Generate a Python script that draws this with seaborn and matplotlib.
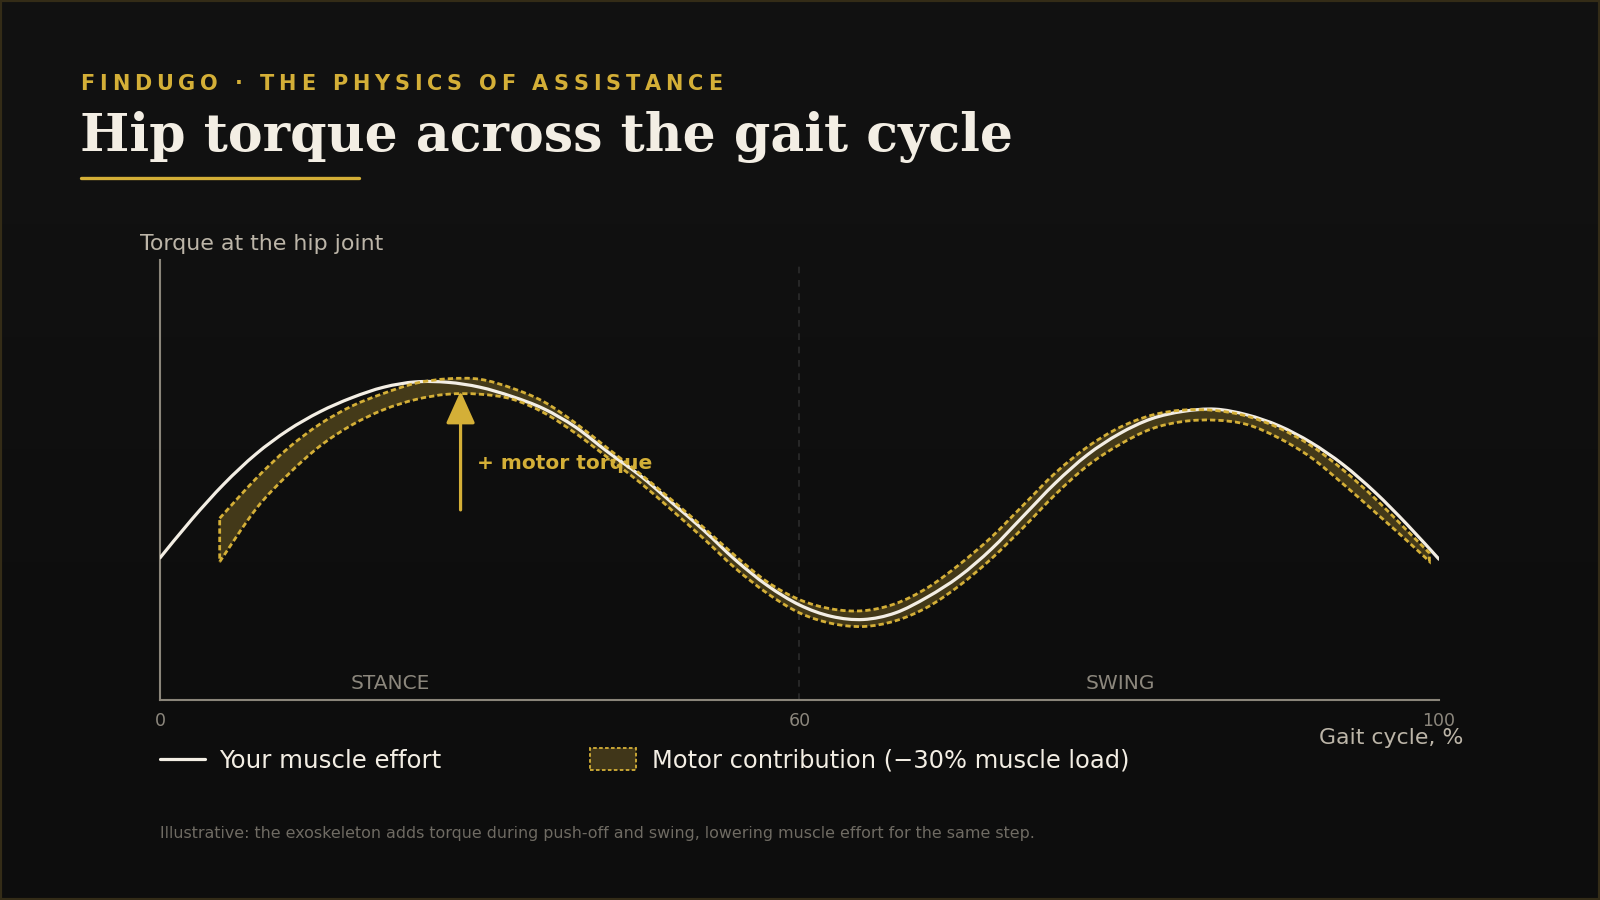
import numpy as np
import seaborn as sns
import matplotlib
matplotlib.use("Agg")
import matplotlib.pyplot as plt
from matplotlib.lines import Line2D
from matplotlib.patches import Rectangle, PathPatch
from matplotlib.path import Path

# ---- data (torque, normalised 0..1 of the plot height) ----
# gait cycle samples in %: stance sampled every 3 %, swing every 2 %
gait = [0, 3, 6, 9, 12, 15, 18, 21, 24, 27, 30, 33, 36, 39, 42, 45, 48, 51, 54, 57, 60,
        62, 64, 66, 68, 70, 72, 74, 76, 78, 80, 82, 84, 86, 88, 90, 92, 94, 96, 98, 100]
muscle = [0.323, 0.411, 0.491, 0.559, 0.613, 0.655, 0.687, 0.711, 0.723, 0.722, 0.711,
          0.690, 0.662, 0.620, 0.564, 0.511, 0.449, 0.386, 0.318, 0.260, 0.216,
          0.190, 0.183, 0.198, 0.234, 0.281, 0.343, 0.418, 0.493, 0.557, 0.605,
          0.639, 0.656, 0.661, 0.648, 0.623, 0.585, 0.535, 0.472, 0.399, 0.320]

band_gait = [5.6, 9, 12, 15, 18, 21, 24, 27, 30, 33, 36, 39, 42, 45, 48, 51, 54, 57, 60,
             62, 64, 66, 68, 70, 72, 74, 76, 78, 80, 82, 84, 86, 88, 90, 92, 94, 96, 98, 99.4]
motor_hi = [0.413, 0.503, 0.572, 0.627, 0.668, 0.697, 0.720, 0.730, 0.729, 0.709, 0.678,
            0.629, 0.572, 0.515, 0.455, 0.392, 0.327, 0.268, 0.228, 0.207, 0.203, 0.219,
            0.255, 0.308, 0.370, 0.443, 0.516, 0.575, 0.619, 0.647, 0.659, 0.658, 0.645,
            0.618, 0.578, 0.523, 0.458, 0.385, 0.334]
motor_lo = [0.314, 0.434, 0.512, 0.577, 0.625, 0.660, 0.683, 0.695, 0.695, 0.684, 0.653,
            0.606, 0.551, 0.495, 0.432, 0.367, 0.299, 0.242, 0.198, 0.174, 0.167, 0.180,
            0.211, 0.260, 0.321, 0.392, 0.467, 0.532, 0.580, 0.616, 0.633, 0.636, 0.626,
            0.595, 0.551, 0.491, 0.427, 0.362, 0.315]

xticks = [0, 60, 100]
arrow_x, arrow_from, arrow_to = 28.2, 0.432, 0.702

# ---- style ----
BG = "#101010"
GOLD = "#d4af37"
CREAM = "#f3eee4"
LABEL = "#bcb5a8"
MUTED = "#8c877d"
FOOT = "#6f6b63"
W, H = 1600, 900
DASH = (0, (1.9, 1.1))

sns.set_theme(style="dark", rc={"axes.facecolor": BG, "figure.facecolor": BG})
plt.rcParams["font.family"] = ["DejaVu Sans"]

fig = plt.figure(figsize=(16, 9), dpi=100)

# soft vertical background gradient
bg = fig.add_axes([0, 0, 1, 1], zorder=-10)
bg.imshow(np.array([[[17, 17, 17]], [[13, 13, 13]]], dtype=np.uint8),
          aspect="auto", interpolation="bilinear", extent=(0, 1, 0, 1))
bg.set_axis_off()


def ftext(px, py, s, **kw):
    return fig.text(px / W, 1 - py / H, s, **kw)


# stance (0-60 %) and swing (60-100 %) each take half the axis
def fwd(x):
    x = np.asarray(x, dtype=float)
    return np.where(x <= 60, x / 60 * 50, 50 + (x - 60) / 40 * 50)


def inv(u):
    u = np.asarray(u, dtype=float)
    return np.where(u <= 50, u * 1.2, 60 + (u - 50) * 0.8)


def smooth(xs, ys):
    # cubic bezier through the sampled points (catmull-rom), built in axis space
    p = np.column_stack([fwd(xs), np.asarray(ys, dtype=float)])
    pm = np.vstack([p[0], p, p[-1]])
    verts, codes = [p[0]], [Path.MOVETO]
    for i in range(len(p) - 1):
        p0, p1, p2, p3 = pm[i], pm[i + 1], pm[i + 2], pm[i + 3]
        verts += [p1 + (p2 - p0) / 6, p2 - (p3 - p1) / 6, p2]
        codes += [Path.CURVE4] * 3
    verts = np.array(verts)
    verts[:, 0] = inv(verts[:, 0])
    return verts, codes


ax = fig.add_axes([160 / W, 200 / H, 1279 / W, 440 / H])
ax.set_facecolor("none")
ax.set_xscale("function", functions=(fwd, inv))
ax.set_xlim(0, 100)
ax.set_ylim(0, 1)

ax.axvline(60, color="#2c2c2c", lw=1.2, ls=(0, (4, 4)), zorder=1)

# motor band: closed outline hi -> lo (reversed)
vh, ch = smooth(band_gait, motor_hi)
vl, cl = smooth(band_gait[::-1], motor_lo[::-1])
band = Path(np.vstack([vh, vl, vh[:1]]),
            ch + [Path.LINETO] + cl[1:] + [Path.CLOSEPOLY])
ax.add_patch(PathPatch(band, facecolor=(212 / 255, 175 / 255, 55 / 255, 0.27),
                       edgecolor="none", zorder=2))

vm, cm = smooth(gait, muscle)
ax.add_patch(PathPatch(Path(vm, cm), fill=False, edgecolor=CREAM, lw=2.3,
                       capstyle="round", zorder=3))

ax.add_patch(PathPatch(band, fill=False, edgecolor=GOLD, lw=2.0, linestyle=DASH,
                       zorder=4))

ax.annotate("", xy=(arrow_x, arrow_to), xytext=(arrow_x, arrow_from),
            arrowprops=dict(arrowstyle="-|>,head_length=1.0,head_width=0.45",
                            color=GOLD, lw=2.3, shrinkA=0, shrinkB=0,
                            mutation_scale=20), zorder=2)
ax.text(29.7, 0.538, "+ motor torque", color=GOLD, fontsize=14.5,
        fontweight="bold", va="center", ha="left", zorder=2)

ax.text(0.18, 0.0386, "STANCE", transform=ax.transAxes, color=MUTED,
        fontsize=14.5, ha="center", va="center")
ax.text(0.751, 0.0386, "SWING", transform=ax.transAxes, color=MUTED,
        fontsize=14.5, ha="center", va="center")

ax.set_xticks(xticks)
ax.set_xticklabels([str(t) for t in xticks])
ax.set_yticks([])
ax.tick_params(axis="x", length=0, pad=9, labelsize=12.5, labelcolor=MUTED)
ax.grid(False)
sns.despine(ax=ax)
for side in ["left", "bottom"]:
    ax.spines[side].set_visible(True)
    ax.spines[side].set_color("#8a857a")
    ax.spines[side].set_linewidth(1.5)

# ---- header ----
renderer = fig.canvas.get_renderer()
kicker = "FINDUGO · THE PHYSICS OF ASSISTANCE"
x = 80.5
for c in kicker:
    if c == " ":
        x += 0.348 * 15 * 100 / 72 + 4.85
        continue
    t = ftext(x, 89.5, c, color=GOLD, fontsize=15, fontweight="bold", va="baseline")
    x += t.get_window_extent(renderer).width + 4.85

ftext(80, 151, "Hip torque across the gait cycle", color=CREAM, fontsize=37.5,
      fontweight="bold", family=["DejaVu Serif"], va="baseline")
fig.add_artist(Line2D([80.5 / W, 359 / W], [1 - 177.5 / H] * 2, color=GOLD, lw=2.4))

ftext(140, 250.5, "Torque at the hip joint", color=LABEL, fontsize=15.9, va="baseline")
ftext(1463, 744, "Gait cycle, %", color=LABEL, fontsize=15.8, ha="right", va="baseline")

# ---- legend ----
fig.add_artist(Line2D([160 / W, 205 / W], [1 - 759 / H] * 2, color=CREAM, lw=2.3))
ftext(219.5, 767.5, "Your muscle effort", color=CREAM, fontsize=17.6, va="baseline")
fig.add_artist(Rectangle((590 / W, 1 - 770 / H), 46 / W, 22 / H, transform=fig.transFigure,
                         facecolor="#403619", edgecolor=GOLD, lw=1.3,
                         linestyle=(0, (2, 1.3))))
ftext(652.5, 767.5, "Motor contribution (\u221230% muscle load)", color=CREAM,
      fontsize=17.4, va="baseline")

ftext(160, 838, "Illustrative: the exoskeleton adds torque during push-off and swing, "
      "lowering muscle effort for the same step.", color=FOOT, fontsize=11.4, va="baseline")

fig.add_artist(Rectangle((0, 0), 1, 1, transform=fig.transFigure, fill=False,
                         edgecolor="#342c17", lw=3))

fig.savefig("out.png", dpi=100, facecolor=BG)
